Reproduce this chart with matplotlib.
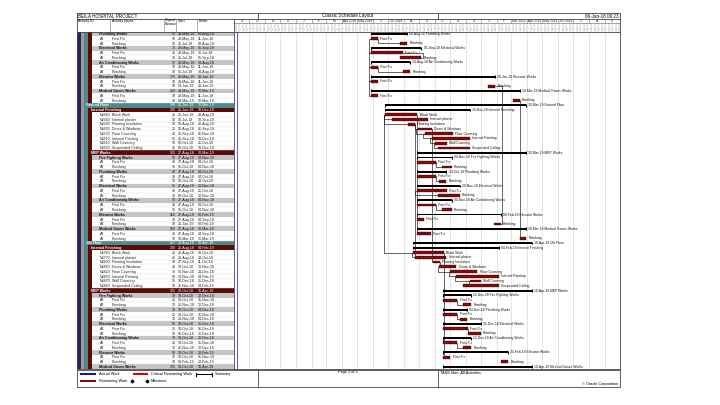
import matplotlib
matplotlib.use('Agg')
import matplotlib.pyplot as plt
import matplotlib.dates as mdates
from matplotlib.patches import Rectangle
import pandas as pd

# ---------------- data ----------------
row_kind = (['grp', 'act', 'act'] * 5 +
            ['floor', 'wbs'] + ['act'] * 8 + ['wbs'] + ['grp', 'act', 'act'] * 6 +
            ['floor', 'wbs'] + ['act'] * 8 + ['wbs'] + ['grp', 'act', 'act'] * 5 + ['grp'])
row_id = (['', 'A2', 'A2'] * 5 +
          ['', '', 'N2560', 'N2580', 'N2590', 'N2600', 'N2570', 'N2610', 'N2620', 'N2630', ''] +
          ['', 'A2', 'A2'] * 6 +
          ['', '', 'N2760', 'N2770', 'N2800', 'N2810', 'N2820', 'N2830', 'N2870', 'N2880', ''] +
          ['', 'A2', 'A2'] * 5 + [''])
mep_groups = ['Fire Fighting Works', 'Plumbing Works', 'Electrical Works',
              'Air Conditioning Works', 'Elevator Works', 'Medical Gases Works']
fin_acts = ['Block Work', 'Internal plaster', 'Flooring Insulation', 'Doors & Windows',
            'Floor Covering', 'Internal Painting', 'Wall Covering', 'Suspended Ceiling']
row_name = []
for g in mep_groups[1:]:
    row_name += [g, 'First Fix', 'Finishing']
row_name += ['Ground Floor', 'Internal Finishing'] + fin_acts + ['MEP Works']
for g in mep_groups:
    row_name += [g, 'First Fix', 'Finishing']
row_name += ['1St Floor', 'Internal Finishing'] + fin_acts + ['MEP Works']
for g in mep_groups[:-1]:
    row_name += [g, 'First Fix', 'Finishing']
row_name += ['Medical Gases Works']

row_dur = [52, 10, 10, 73, 45, 30, 57, 10, 10, 175, 10, 10, 210, 10, 10,
           198, 120, 45, 50, 10, 20, 40, 55, 18, 45,
           155, 50, 28, 15, 42, 28, 10, 61, 43, 32, 50, 28, 15, 118, 10, 10, 155, 20, 10,
           167, 120, 45, 45, 10, 24, 38, 58, 15, 50,
           125, 39, 20, 12, 33, 20, 10, 52, 35, 18, 39, 20, 12, 90, 10, 10, 125]
row_start = ['28-May-18', '28-May-18', '25-Jul-18', '28-May-18', '28-May-18', '25-Jul-18',
             '28-May-18', '28-May-18', '31-Jul-18', '28-May-18', '28-May-18', '14-Jan-19',
             '28-May-18', '28-May-18', '04-Mar-19',
             '26-Jun-18', '26-Jun-18', '26-Jun-18', '09-Jul-18', '09-Aug-18', '29-Aug-18',
             '12-Sep-18', '25-Sep-18', '02-Oct-18', '08-Oct-18',
             '27-Aug-18', '27-Aug-18', '27-Aug-18', '15-Oct-18', '27-Aug-18', '27-Aug-18',
             '10-Oct-18', '27-Aug-18', '27-Aug-18', '08-Oct-18', '27-Aug-18', '27-Aug-18',
             '15-Oct-18', '27-Aug-18', '27-Aug-18', '25-Jan-19', '27-Aug-18', '27-Aug-18',
             '18-Mar-19',
             '20-Aug-18', '20-Aug-18', '20-Aug-18', '23-Aug-18', '27-Sep-18', '10-Oct-18',
             '01-Nov-18', '13-Nov-18', '10-Dec-18', '26-Nov-18',
             '18-Oct-18', '18-Oct-18', '18-Oct-18', '26-Nov-18', '18-Oct-18', '18-Oct-18',
             '20-Nov-18', '18-Oct-18', '18-Oct-18', '06-Dec-18', '18-Oct-18', '18-Oct-18',
             '26-Nov-18', '18-Oct-18', '18-Oct-18', '09-Feb-19', '18-Oct-18']
row_finish = ['08-Aug-18', '11-Jun-18', '08-Aug-18', '05-Sep-18', '30-Jul-18', '05-Sep-18',
              '14-Aug-18', '11-Jun-18', '14-Aug-18', '28-Jan-19', '11-Jun-18', '28-Jan-19',
              '18-Mar-19', '11-Jun-18', '18-Mar-19',
              '30-Mar-19', '10-Dec-18', '28-Aug-18', '18-Sep-18', '23-Aug-18', '26-Sep-18',
              '06-Nov-18', '10-Dec-18', '25-Oct-18', '10-Dec-18',
              '30-Mar-19', '04-Nov-18', '04-Oct-18', '04-Nov-18', '24-Oct-18', '04-Oct-18',
              '24-Oct-18', '20-Nov-18', '25-Oct-18', '20-Nov-18', '04-Nov-18', '04-Oct-18',
              '04-Nov-18', '08-Feb-19', '10-Sep-18', '08-Feb-19', '30-Mar-19', '24-Sep-18',
              '30-Mar-19',
              '10-Apr-19', '04-Feb-19', '19-Oct-18', '24-Oct-18', '11-Oct-18', '13-Nov-18',
              '24-Dec-18', '04-Feb-19', '31-Dec-18', '04-Feb-19',
              '10-Apr-19', '12-Dec-18', '15-Nov-18', '12-Dec-18', '04-Dec-18', '15-Nov-18',
              '04-Dec-18', '31-Dec-18', '06-Dec-18', '31-Dec-18', '12-Dec-18', '15-Nov-18',
              '12-Dec-18', '23-Feb-19', '01-Nov-18', '23-Feb-19', '10-Apr-19']

# relationships (predecessor row, successor row, type)
links = [(1, 4, 'SS'), (4, 7, 'SS'), (7, 10, 'SS'), (10, 13, 'SS'),
         (1, 2, 'FS'), (7, 8, 'FS'), (4, 5, 'FF'),
         (11, 40, 'FF'), (14, 43, 'FS'),
         (17, 18, 'SS'), (17, 19, 'SS'), (19, 20, 'FS'), (20, 21, 'SS'), (21, 22, 'SS'),
         (22, 23, 'SS'), (23, 24, 'SS'),
         (17, 42, 'FS'), (27, 28, 'FS'), (30, 31, 'FS'), (33, 34, 'SS'), (36, 37, 'FS'),
         (17, 46, 'SS'), (19, 47, 'FS'), (20, 48, 'FS'),
         (46, 47, 'SS'), (48, 49, 'FS'), (49, 50, 'SS'), (50, 51, 'SS'), (51, 52, 'SS'),
         (52, 53, 'SS'), (46, 68, 'FS'), (56, 57, 'FS'), (59, 60, 'FS'), (62, 63, 'FS'),
         (65, 66, 'FS')]

month_labels = ['S', 'O', 'N', 'D', 'J', 'F', 'M', 'Apr 2018', 'May 2018', 'J', 'Jul 2018',
                'A', 'S', 'O', 'N', 'D', 'J', 'F', 'Mar 2019', 'Apr 2019', 'May 2019',
                'Jun 2019', 'J', 'A', 'S']
time_start, time_end = '2017-09-01', '2019-10-01'
data_date = '2017-09-06'

# ---------------- layout ----------------
W, H = 720, 405
L, TBL_R, R = 77, 234, 620
TOP, TITLE_B, MON_B, HDR_B, BODY_B, FOOT_B = 13, 19, 23.5, 31.5, 369, 387
FONT = 'Liberation Sans'
plt.rcParams['font.family'] = [FONT, 'DejaVu Sans']

fig = plt.figure(figsize=(7.2, 4.05), dpi=100)
fig.patch.set_facecolor('white')


def fbox(x0, y0, x1, y1):
    return [x0 / W, 1 - y1 / H, (x1 - x0) / W, (y1 - y0) / H]


N = len(row_kind)
st = mdates.date2num(pd.to_datetime(row_start, format='%d-%b-%y'))
fn = mdates.date2num(pd.to_datetime(row_finish, format='%d-%b-%y'))
x0d = mdates.date2num(pd.Timestamp(time_start))
x1d = mdates.date2num(pd.Timestamp(time_end))

NAVY, GREY_S, TEAL, DRED, GRP = '#23235e', '#9a9a9a', '#4d8a8a', '#5c0a0a', '#c4c4c4'

# ---------------- table ----------------
tb = fig.add_axes(fbox(L, HDR_B, TBL_R, BODY_B))
tb.set_xlim(L, TBL_R)
tb.set_ylim(N, 0)
tb.axis('off')
fs = 2.6
for i, k in enumerate(row_kind):
    y = i
    tb.add_patch(Rectangle((77, y), 3.5, 1, color=NAVY, lw=0))
    tb.add_patch(Rectangle((80.5, y), 3, 1, color=GREY_S, lw=0))
    if k == 'floor':
        tb.add_patch(Rectangle((83.5, y), TBL_R - 83.5, 1, color=TEAL, lw=0))
        col, x_name, wt = 'white', 86, 'bold'
    else:
        tb.add_patch(Rectangle((83.5, y), 4, 1, color=TEAL, lw=0))
        if k == 'wbs':
            tb.add_patch(Rectangle((87.5, y), TBL_R - 87.5, 1, color=DRED, lw=0))
            col, x_name, wt = 'white', 91, 'bold'
        else:
            tb.add_patch(Rectangle((87.5, y), 4, 1, color=DRED, lw=0))
            if k == 'grp':
                tb.add_patch(Rectangle((91.5, y), TBL_R - 91.5, 1, color=GRP, lw=0))
                col, x_name, wt = '#111111', 99, 'bold'
            else:
                tb.plot([91.5, TBL_R], [y + 1, y + 1], color='#dddddd', lw=0.3)
                col, x_name, wt = '#222222', 112, 'normal'
                tb.text(99.5, y + 0.55, row_id[i], fontsize=fs, va='center', color=col)
    tb.text(x_name, y + 0.55, row_name[i], fontsize=fs, va='center', color=col, fontweight=wt)
    tb.text(175.5, y + 0.55, str(row_dur[i]), fontsize=fs, va='center', ha='right', color=col)
    tb.text(178, y + 0.55, row_start[i], fontsize=fs, va='center', color=col)
    tb.text(198, y + 0.55, row_finish[i], fontsize=fs, va='center', color=col)

# ---------------- gantt ----------------
ax = fig.add_axes(fbox(TBL_R, HDR_B, R, BODY_B))
ax.set_xlim(x0d, x1d)
ax.set_ylim(N, 0)
ax.axis('off')
months = pd.date_range(time_start, time_end, freq='MS')
mnum = mdates.date2num(months)
ax.vlines(mnum[1:-1], 0, N, color='#cfcfcf', lw=0.4, zorder=0)
ax.vlines(mdates.date2num(pd.Timestamp(data_date)), 0, N, color='#5c5cf0', lw=0.8, zorder=4)

for p, s, t in links:
    yp, ys = p + 0.5, s + 0.5
    if t == 'FS':
        xs, ys_ = [fn[p], fn[p], st[s]], [yp, ys, ys]
    elif t == 'SS':
        xv = st[p] - 3
        xs, ys_ = [st[p], xv, xv, st[s]], [yp, yp, ys, ys]
    else:
        xv = max(fn[p], fn[s]) + 3
        xs, ys_ = [fn[p], xv, xv, fn[s]], [yp, yp, ys, ys]
    ax.plot(xs, ys_, color='#111111', lw=0.45, zorder=1)

lfs = 2.4
for i, k in enumerate(row_kind):
    yc = i + 0.5
    if k == 'act':
        ax.barh(yc, fn[i] - st[i], left=st[i], height=0.6, color='#7e0c0c',
                edgecolor='#3c0000', lw=0.25, zorder=3)
        ax.annotate(row_name[i], (fn[i], yc), xytext=(1.6, 0), textcoords='offset points',
                    fontsize=lfs, va='center', color='#111111')
    else:
        ax.barh(yc, fn[i] - st[i], left=st[i], height=0.4, color='black', lw=0, zorder=3)
        ax.vlines([st[i], fn[i]], yc - 0.3, yc + 0.3, color='black', lw=0.8, zorder=3)
        ax.annotate(f"{row_finish[i]} {row_name[i]}", (fn[i], yc), xytext=(1.6, 0),
                    textcoords='offset points', fontsize=lfs, va='center', color='#111111')

# ---------------- timescale header ----------------
hd = fig.add_axes(fbox(TBL_R, TITLE_B, R, HDR_B))
hd.set_xlim(x0d, x1d)
hd.set_ylim(HDR_B, TITLE_B)
hd.axis('off')
hd.vlines(mnum[1:-1], TITLE_B, MON_B, color='#777777', lw=0.4)
for j, lab in enumerate(month_labels):
    hd.text((mnum[j] + mnum[j + 1]) / 2, (TITLE_B + MON_B) / 2 + 0.2, lab, fontsize=2.3,
            ha='center', va='center', color='#222222')
weeks = pd.date_range(time_start, time_end, freq='W-MON')
wnum = mdates.date2num(weeks)
hd.vlines(wnum, MON_B, HDR_B, color='#8a8a8a', lw=0.3)
for w, d in zip(wnum, weeks):
    hd.text(w + 3.5, (MON_B + HDR_B) / 2, str(d.day), fontsize=1.5, ha='center',
            va='center', color='#555555', rotation=90)
hd.plot([x0d, x1d], [MON_B, MON_B], color='#666666', lw=0.4)

# ---------------- frame, title, footer ----------------
top = fig.add_axes([0, 0, 1, 1])
top.set_xlim(0, W)
top.set_ylim(H, 0)
top.axis('off')
top.patch.set_alpha(0)
k = dict(color='#444444', lw=0.6)
top.plot([L, R, R, L, L], [TOP, TOP, BODY_B, BODY_B, TOP], **k)
top.plot([L, R], [TITLE_B, TITLE_B], **k)
top.plot([L, R], [HDR_B, HDR_B], **k)
top.plot([TBL_R, TBL_R], [TITLE_B, BODY_B], **k)
for xv in (258, 438):
    top.plot([xv, xv], [TOP, TITLE_B], **k)
for xv in (110, 164, 176, 197):
    top.plot([xv, xv], [TITLE_B, HDR_B], color='#777777', lw=0.4)
top.text(78.5, 16, 'BEILA HOSPITAL PROJECT', fontsize=3.3, va='center')
top.text(348, 16, 'Classic Schedule Layout', fontsize=3.3, va='center', ha='center')
top.text(618.5, 16, '06-Jan-18 09:23', fontsize=3.3, va='center', ha='right')
top.text(78.5, 21.3, 'Activity ID', fontsize=2.5, va='center')
top.text(112, 21.3, 'Activity Name', fontsize=2.5, va='center')
top.text(165, 22.2, 'Original\nDuration', fontsize=2.3, va='center', linespacing=0.9)
top.text(177.5, 21.3, 'Start', fontsize=2.5, va='center')
top.text(198.5, 21.3, 'Finish', fontsize=2.5, va='center')

top.plot([L, R, R, L, L], [BODY_B + 0.8, BODY_B + 0.8, FOOT_B, FOOT_B, BODY_B + 0.8], **k)
for xv in (258, 438):
    top.plot([xv, xv], [BODY_B + 0.8, FOOT_B], **k)
top.text(348, 372.5, 'Page 2 of 5', fontsize=2.8, ha='center', va='center')
top.text(440, 372.5, 'TASK filter: All Activities', fontsize=2.8, va='center')
top.text(618.5, 384, '\u00a9 Oracle Corporation', fontsize=2.8, ha='right', va='center')

lg = 2.8
top.add_patch(Rectangle((80, 373.3), 16, 2, color='#1010d0', lw=0))
top.text(99, 374.3, 'Actual Work', fontsize=lg, va='center')
top.add_patch(Rectangle((133, 373.3), 15, 2, color='#e00000', lw=0))
top.text(151, 374.3, 'Critical Remaining Work', fontsize=lg, va='center')
top.add_patch(Rectangle((196, 373.6), 16, 1.4, color='black', lw=0))
top.plot([196, 196], [372.8, 375.8], color='black', lw=0.8)
top.plot([212, 212], [372.8, 375.8], color='black', lw=0.8)
top.text(215, 374.3, 'Summary', fontsize=lg, va='center')
top.add_patch(Rectangle((80, 379.7), 16, 2, color='#7e0c0c', lw=0))
top.text(99, 380.7, 'Remaining Work', fontsize=lg, va='center')
top.plot([132], [380.7], marker='D', ms=1.4, color='black')
top.plot([147], [380.7], marker='D', ms=1.4, color='black')
top.text(151, 380.7, 'Milestone', fontsize=lg, va='center')

fig.savefig('out.png', dpi=100, facecolor='white')
